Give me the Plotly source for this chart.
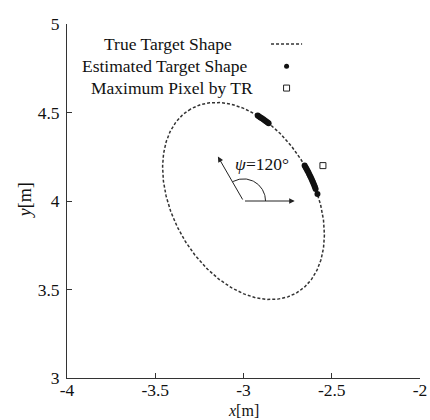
import numpy as np
import plotly.graph_objects as go

# True target shape: ellipse parameters
center_x, center_y = -3.0, 4.0
semi_major, semi_minor = 0.6, 0.4
psi_deg = 120.0

# Estimated target shape points
est_x = [-2.9196, -2.9117, -2.9039, -2.8961, -2.8883, -2.8806, -2.8729, -2.8652, -2.8576,
         -2.6536, -2.6484, -2.6433, -2.6384, -2.6335, -2.6288, -2.6241, -2.6196, -2.6152,
         -2.6110, -2.6068, -2.6028, -2.5988, -2.5950, -2.5913, -2.5810]
est_y = [4.4824, 4.4775, 4.4724, 4.4672, 4.4618, 4.4564, 4.4507, 4.4449, 4.4390,
         4.2000, 4.1909, 4.1818, 4.1725, 4.1632, 4.1539, 4.1446, 4.1352, 4.1258,
         4.1163, 4.1068, 4.0972, 4.0876, 4.0780, 4.0684, 4.0394]

# Maximum pixel by TR
tr_x = [-2.55]
tr_y = [4.20]

x_ticks = [-4, -3.5, -3, -2.5, -2]
x_labels = ["-4", "-3.5", "-3", "-2.5", "-2"]
y_ticks = [3, 3.5, 4, 4.5, 5]
y_labels = ["3", "3.5", "4", "4.5", "5"]

legend_names = ["True Target Shape", "Estimated Target Shape", "Maximum Pixel by TR"]

FONT = "Liberation Serif"
FS = 17.5
INK = "#111111"

t = np.linspace(0, 2 * np.pi, 400)
th = np.deg2rad(psi_deg)
ell_x = center_x + semi_major * np.cos(t) * np.cos(th) - semi_minor * np.sin(t) * np.sin(th)
ell_y = center_y + semi_major * np.cos(t) * np.sin(th) + semi_minor * np.sin(t) * np.cos(th)

fig = go.Figure()
fig.add_trace(go.Scatter(x=ell_x, y=ell_y, mode="lines",
                         line=dict(color="#333333", width=1.5, dash="3px,2px"),
                         showlegend=False, hoverinfo="skip"))
fig.add_trace(go.Scatter(x=est_x, y=est_y, mode="markers",
                         marker=dict(color="#111111", size=6),
                         showlegend=False))
fig.add_trace(go.Scatter(x=tr_x, y=tr_y, mode="markers",
                         marker=dict(symbol="square-open", color="#222222", size=6,
                                     line=dict(width=1)),
                         showlegend=False))

# angle arc and arrows
arc_r = 0.125
arc_t = np.linspace(0, th, 60)
fig.add_trace(go.Scatter(x=center_x + arc_r * np.cos(arc_t), y=center_y + arc_r * np.sin(arc_t),
                         mode="lines", line=dict(color="#222222", width=1),
                         showlegend=False, hoverinfo="skip"))
arrow_len = 0.29
for ang in [0.0, th]:
    fig.add_annotation(x=center_x + arrow_len * np.cos(ang), y=center_y + arrow_len * np.sin(ang),
                       ax=center_x, ay=center_y, axref="x", ayref="y", xref="x", yref="y",
                       text="", showarrow=True, arrowhead=2, arrowsize=1.1, arrowwidth=1,
                       arrowcolor="#222222")
fig.add_annotation(x=-2.895, y=4.209, xref="x", yref="y", text="<i>ψ</i>=120°",
                   showarrow=False, font=dict(family=FONT, size=FS, color=INK))

# Legend (symbols right of text) on an overlay axis
leg_y = [0.9435, 0.881, 0.819]
leg_tx = [0.286, 0.278, 0.297]
for name, ty, tx in zip(legend_names, leg_y, leg_tx):
    fig.add_annotation(x=tx, y=ty, xref="paper", yref="paper", xanchor="center", yanchor="middle",
                       text=name, showarrow=False,
                       font=dict(family=FONT, size=FS, color=INK))
fig.add_trace(go.Scatter(x=[0.578, 0.666], y=[leg_y[0], leg_y[0]], mode="lines",
                         line=dict(color="#333333", width=1.5, dash="3px,2px"),
                         xaxis="x2", yaxis="y2", showlegend=False, hoverinfo="skip"))
fig.add_trace(go.Scatter(x=[0.622], y=[leg_y[1]], mode="markers",
                         marker=dict(color="#111111", size=5),
                         xaxis="x2", yaxis="y2", showlegend=False, hoverinfo="skip"))
fig.add_trace(go.Scatter(x=[0.622], y=[leg_y[2]], mode="markers",
                         marker=dict(symbol="square-open", color="#222222", size=6, line=dict(width=1)),
                         xaxis="x2", yaxis="y2", showlegend=False, hoverinfo="skip"))

# axis titles
fig.add_annotation(x=0.5, y=-0.118, xref="paper", yref="paper", xanchor="center", yanchor="bottom",
                   text="<i>x</i>[m]", showarrow=False, borderpad=0,
                   font=dict(family=FONT, size=16, color=INK))
fig.add_annotation(x=-0.118, y=0.503, xref="paper", yref="paper", xanchor="center", yanchor="middle",
                   textangle=-90,
                   text="<i>y</i>[m]", showarrow=False, font=dict(family=FONT, size=FS + 0.5, color=INK))

axis_common = dict(showgrid=False, zeroline=False, showline=True, linecolor="#333333", linewidth=1,
                   ticks="inside", ticklen=5, tickcolor="#333333", mirror=False, automargin=False,
                   tickfont=dict(family=FONT, size=FS, color=INK))
fig.update_layout(
    width=430, height=420,
    margin=dict(l=67, r=10, t=24, b=42),
    paper_bgcolor="white", plot_bgcolor="white",
    xaxis=dict(range=[-4, -2], tickvals=x_ticks, ticktext=x_labels, ticklabelstandoff=-4,
               **axis_common),
    yaxis=dict(range=[3, 5], tickvals=y_ticks, ticktext=y_labels, ticklabelstandoff=3,
               **axis_common),
    xaxis2=dict(range=[0, 1], overlaying="x", visible=False),
    yaxis2=dict(range=[0, 1], overlaying="y", visible=False),
    showlegend=False,
)
fig.write_html("out.html")
